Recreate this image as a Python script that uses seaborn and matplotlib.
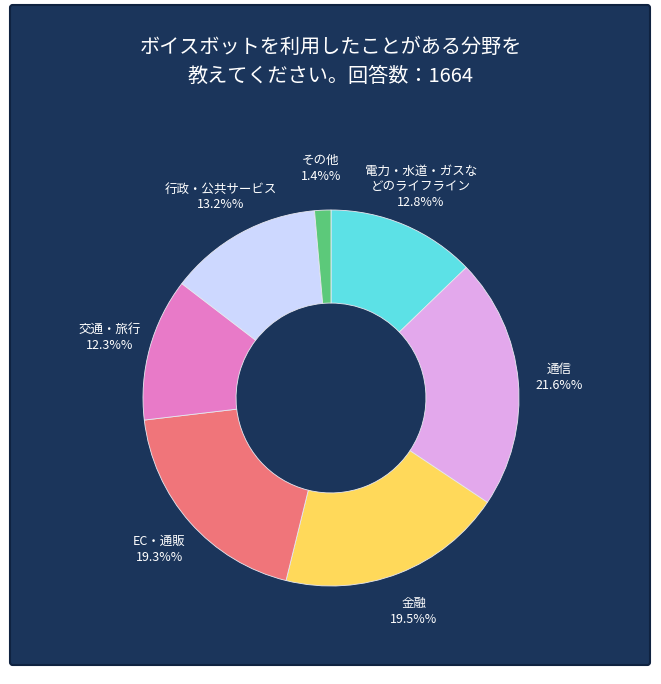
import matplotlib
matplotlib.use("Agg")
import matplotlib.pyplot as plt
import seaborn as sns
from matplotlib.patches import FancyBboxPatch

sns.set_style("white")
plt.rcParams['font.family'] = ['Noto Sans CJK JP', 'DejaVu Sans']

categories = ["電力・水道・ガスな\nどのライフライン", "通信", "金融", "EC・通販", "交通・旅行", "行政・公共サービス", "その他"]
values = [12.8, 21.6, 19.5, 19.3, 12.3, 13.2, 1.4]
colors = ["#5ce1e6", "#e3a8ec", "#ffd95a", "#f0757a", "#e87ac8", "#cdd8ff", "#5cc97a"]
title = "ボイスボットを利用したことがある分野を\n教えてください。回答数：1664"

W, H = 661, 684
fig = plt.figure(figsize=(W/100, H/100), dpi=100)
fig.patch.set_facecolor("white")
panel = FancyBboxPatch((10/W, 19/H), 640/W, 660/H, boxstyle="round,pad=0,rounding_size=0.004",
                       transform=fig.transFigure, facecolor="#1b355b", edgecolor="#0f2240",
                       linewidth=1.5, zorder=-10)
fig.patches.append(panel)

fig.text(331/W, 1-62/H, title, ha="center", va="center", color="white", fontsize=14.5, linespacing=1.45)

cx, cy, R = 331, H-398, 188
ax = fig.add_axes([(cx-R)/W, (cy-R)/H, 2*R/W, 2*R/H])
ax.set_zorder(5)
ax.patch.set_alpha(0)
labels = [f"{c}\n{v}%%" for c, v in zip(categories, values)]
wedges, texts = ax.pie(values, colors=colors, startangle=90, counterclock=False,
                       labels=labels, labeldistance=1.22,
                       wedgeprops=dict(width=0.495, edgecolor="#e8e8f0", linewidth=0.6),
                       textprops=dict(color="white", fontsize=9, ha="center", va="center", linespacing=1.3))
ax.set_xlim(-1, 1); ax.set_ylim(-1, 1)
ax.set_aspect("equal")
ax.axis("off")
fig.savefig("out.png", dpi=100, facecolor="white")
